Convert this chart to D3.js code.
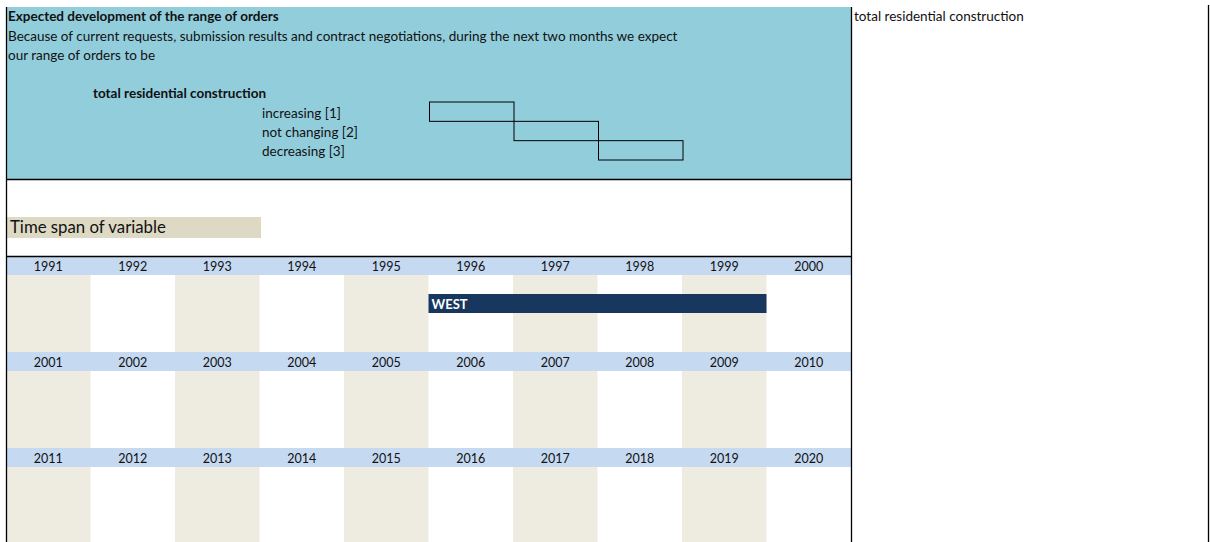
<!DOCTYPE html>
<html>
<head>
<meta charset="utf-8">
<script src="https://cdn.jsdelivr.net/npm/d3@7"></script>
<style>
  body { margin: 0; background: #fff; }
  svg { display: block; font-family: Lato, "Open Sans", sans-serif; }
</style>
</head>
<body>
<script>
// data
var title = "Expected development of the range of orders";
var introLines = [
  "Because of current requests, submission results and contract negotiations, during the next two months we expect",
  "our range of orders to be"
];
var variableName = "total residential construction";
var options = ["increasing [1]", "not changing [2]", "decreasing [3]"];
var spanLabel = "Time span of variable";
var decades = [1991, 2001, 2011];
var years = d3.range(1991, 2021);
var spans = [{ name: "WEST", start: 1996, end: 1999 }];

var width = 1210, height = 542;
var fs = 13.5;

var svg = d3.select("body").append("svg")
  .attr("width", width)
  .attr("height", height);

// question panel
svg.append("rect")
  .attr("x", 6).attr("y", 7)
  .attr("width", 845.5).attr("height", 172)
  .attr("fill", "#92cddc");

svg.append("text")
  .attr("x", 8).attr("y", 21)
  .attr("font-size", fs).attr("font-weight", "bold")
  .attr("fill", "#111")
  .text(title);

svg.selectAll("text.intro")
  .data(introLines)
  .enter().append("text")
  .attr("class", "intro")
  .attr("x", 8)
  .attr("y", function(d, i) { return 41 + i * 19; })
  .attr("font-size", fs)
  .attr("fill", "#111")
  .text(function(d) { return d; });

svg.append("text")
  .attr("x", 93).attr("y", 98)
  .attr("font-size", fs).attr("font-weight", "bold")
  .attr("fill", "#111")
  .text(variableName);

// option scales (the staircase of answer boxes)
var optX = d3.scaleBand().domain(d3.range(options.length)).range([429.5, 683]).padding(0);
var optY = d3.scaleBand().domain(d3.range(options.length)).range([102, 160]).padding(0);

svg.selectAll("text.opt")
  .data(options)
  .enter().append("text")
  .attr("class", "opt")
  .attr("x", 262)
  .attr("y", function(d, i) { return optY(i) + 15.5; })
  .attr("font-size", fs)
  .attr("fill", "#111")
  .text(function(d) { return d; });

svg.selectAll("rect.optbox")
  .data(options)
  .enter().append("rect")
  .attr("class", "optbox")
  .attr("x", function(d, i) { return optX(i); })
  .attr("y", function(d, i) { return optY(i); })
  .attr("width", optX.bandwidth())
  .attr("height", optY.bandwidth())
  .attr("fill", "none")
  .attr("stroke", "#000")
  .attr("stroke-width", 1);

// time span label
svg.append("rect")
  .attr("x", 6).attr("y", 217)
  .attr("width", 255).attr("height", 21)
  .attr("fill", "#ddd9c4");
svg.append("text")
  .attr("x", 10).attr("y", 232.5)
  .attr("font-size", 16.8)
  .attr("fill", "#111")
  .text(spanLabel);

// timeline grid
var col = d3.scaleBand().domain(d3.range(10)).range([6, 851]);
var row = d3.scaleBand().domain(decades).range([256, 544]);
var headerH = 19;

var rows = svg.selectAll("g.decade")
  .data(decades)
  .enter().append("g")
  .attr("class", "decade")
  .attr("transform", function(d) { return "translate(0," + row(d) + ")"; });

rows.selectAll("rect.shade")
  .data(function(d) { return d3.range(10).filter(function(i) { return i % 2 === 0; }); })
  .enter().append("rect")
  .attr("class", "shade")
  .attr("x", function(i) { return col(i); })
  .attr("y", headerH)
  .attr("width", col.bandwidth())
  .attr("height", row.bandwidth() - headerH)
  .attr("fill", "#eeebe0");

rows.append("rect")
  .attr("x", col.range()[0])
  .attr("y", 0)
  .attr("width", col.range()[1] - col.range()[0])
  .attr("height", headerH)
  .attr("fill", "#c5d9f1");

rows.selectAll("text.year")
  .data(function(d) { return years.filter(function(y) { return y >= d && y < d + 10; }); })
  .enter().append("text")
  .attr("class", "year")
  .attr("x", function(y) { return col((y - 1991) % 10) + col.bandwidth() / 2; })
  .attr("y", 14.5)
  .attr("text-anchor", "middle")
  .attr("font-size", 12.5)
  .attr("fill", "#111")
  .text(function(y) { return y; });

// span bars
spans.forEach(function(s) {
  var dec = decades.filter(function(d) { return s.start >= d && s.start < d + 10; })[0];
  var x0 = col((s.start - 1991) % 10);
  var x1 = col((s.end - 1991) % 10) + col.bandwidth();
  var y0 = row(dec) + 38;
  svg.append("rect")
    .attr("x", x0).attr("y", y0)
    .attr("width", x1 - x0).attr("height", 19)
    .attr("fill", "#17375e");
  svg.append("text")
    .attr("x", x0 + 3).attr("y", y0 + 14.5)
    .attr("font-size", 13).attr("font-weight", "bold")
    .attr("fill", "#fff")
    .text(s.name);
});

// side label
svg.append("text")
  .attr("x", 854).attr("y", 20.5)
  .attr("font-size", fs)
  .attr("fill", "#111")
  .text(variableName);

// black borders
var lines = [
  [6.5, 7, 6.5, 542],
  [851.5, 7, 851.5, 542],
  [1208.5, 5, 1208.5, 542],
  [6, 179.5, 852, 179.5],
  [6, 256.5, 852, 256.5]
];
svg.selectAll("line.border")
  .data(lines)
  .enter().append("line")
  .attr("class", "border")
  .attr("x1", function(d) { return d[0]; })
  .attr("y1", function(d) { return d[1]; })
  .attr("x2", function(d) { return d[2]; })
  .attr("y2", function(d) { return d[3]; })
  .attr("stroke", "#000")
  .attr("stroke-width", 1.3);
</script>
</body>
</html>
